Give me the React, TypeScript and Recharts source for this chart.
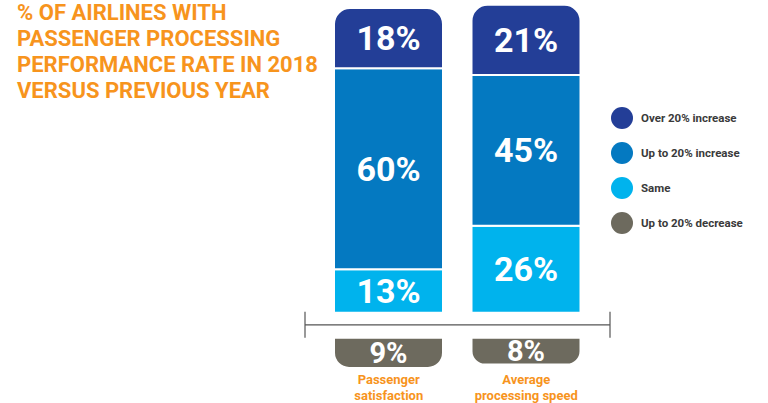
import { Bar, BarChart, LabelList, Rectangle, ReferenceLine, XAxis, YAxis } from "recharts";

// categories and values
const categories = ["Passenger satisfaction", "Average processing speed"];
const categoryLines = [["Passenger", "satisfaction"], ["Average", "processing speed"]];
const over20 = [18, 21];
const upTo20 = [60, 45];
const same = [13, 26];
const decrease = [-9, -8];

const seriesNames = ["Over 20% increase", "Up to 20% increase", "Same", "Up to 20% decrease"];
const seriesColors = ["#233e97", "#0479c1", "#00b3ed", "#6d6a5e"];

const titleLines = [
    "% OF AIRLINES WITH",
    "PASSENGER PROCESSING",
    "PERFORMANCE RATE IN 2018",
    "VERSUS PREVIOUS YEAR",
];

const data = categories.map((c, i) => ({
    category: c,
    over20: over20[i],
    upTo20: upTo20[i],
    same: same[i],
    decrease: decrease[i],
}));

const ORANGE = "#f7941d";
const FONT = "Roboto, 'DejaVu Sans', sans-serif";
// gap between the stacks and the axis line
const UP_SHIFT = -12;
const DOWN_SHIFT = 13;

function segmentShape(shift: number, radius: [number, number, number, number]) {
    return (props: any) => {
        const x = Number(props.x);
        const y = Number(props.y);
        const w = Number(props.width);
        const h = Number(props.height);
        const top = Math.min(y, y + h) + shift;
        return (
            <Rectangle
                x={x}
                y={top}
                width={w}
                height={Math.abs(h)}
                fill={props.fill}
                radius={radius}
                stroke="#ffffff"
                strokeWidth={2}
            />
        );
    };
}

function valueLabel(shift: number, size: number) {
    return (props: any) => {
        const x = Number(props.x);
        const y = Number(props.y);
        const w = Number(props.width);
        const h = Number(props.height);
        const cy = Math.min(y, y + h) + Math.abs(h) / 2 + shift;
        return (
            <text
                x={x + w / 2}
                y={cy}
                textAnchor="middle"
                dominantBaseline="central"
                fill="#ffffff"
                fontSize={size}
                fontWeight="bold"
                fontFamily={FONT}
            >
                {Math.abs(Number(props.value))}%
            </text>
        );
    };
}

function CategoryTick(props: any) {
    const { x, y, payload } = props;
    const idx = categories.indexOf(payload.value);
    const lines = categoryLines[idx] || [payload.value];
    return (
        <text x={x} y={y} textAnchor="middle" fill={ORANGE} fontSize={13} fontWeight="bold" fontFamily={FONT}>
            {lines.map((l, i) => (
                <tspan key={i} x={x} dy={i === 0 ? 6 : 16}>{l}</tspan>
            ))}
        </text>
    );
}

function AxisLine(props: any) {
    const { x1, y1, x2, y2 } = props;
    return (
        <g stroke="#555555" strokeWidth={1.2}>
            <line x1={x1} y1={y1} x2={x2} y2={y2} />
            <line x1={x1} y1={y1 - 13} x2={x1} y2={y1 + 13} />
            <line x1={x2} y1={y2 - 13} x2={x2} y2={y2 + 13} />
        </g>
    );
}

export default function App() {
    return (
        <div style={{ position: "absolute", left: 0, top: 0, width: 768, height: 403, background: "#ffffff", fontFamily: FONT }}>
            <div style={{ position: "absolute", left: 17, top: 0, color: ORANGE, fontWeight: "bold", fontSize: 22, lineHeight: "26px" }}>
                {titleLines.map((t) => (
                    <div key={t}>{t}</div>
                ))}
            </div>

            <BarChart
                width={768}
                height={403}
                data={data}
                stackOffset="sign"
                margin={{ top: 0, right: 158, bottom: 0, left: 305 }}
                barSize={109}
            >
                <XAxis
                    dataKey="category"
                    axisLine={false}
                    tickLine={false}
                    height={33}
                    padding={{ left: 15, right: 15 }}
                    tick={<CategoryTick />}
                    interval={0}
                />
                <YAxis hide domain={[-13.5, 97]} allowDataOverflow />
                <ReferenceLine y={0} shape={<AxisLine />} />
                <Bar dataKey="same" stackId="a" fill={seriesColors[2]} isAnimationActive={false} shape={segmentShape(UP_SHIFT, [0, 0, 0, 0])}>
                    <LabelList dataKey="same" content={valueLabel(UP_SHIFT, 34)} />
                </Bar>
                <Bar dataKey="upTo20" stackId="a" fill={seriesColors[1]} isAnimationActive={false} shape={segmentShape(UP_SHIFT, [0, 0, 0, 0])}>
                    <LabelList dataKey="upTo20" content={valueLabel(UP_SHIFT, 34)} />
                </Bar>
                <Bar dataKey="over20" stackId="a" fill={seriesColors[0]} isAnimationActive={false} shape={segmentShape(UP_SHIFT, [16, 16, 0, 0])}>
                    <LabelList dataKey="over20" content={valueLabel(UP_SHIFT, 34)} />
                </Bar>
                <Bar dataKey="decrease" stackId="a" fill={seriesColors[3]} isAnimationActive={false} shape={segmentShape(DOWN_SHIFT, [0, 0, 16, 16])}>
                    <LabelList dataKey="decrease" content={valueLabel(DOWN_SHIFT, 29)} />
                </Bar>
            </BarChart>

            <div style={{ position: "absolute", left: 611, top: 100 }}>
                {seriesNames.map((n, i) => (
                    <div key={n} style={{ display: "flex", alignItems: "center", height: 35 }}>
                        <span style={{ width: 22, height: 22, borderRadius: 11, background: seriesColors[i], display: "inline-block" }} />
                        <span style={{ marginLeft: 8, fontSize: 11.5, fontWeight: "bold", color: "#3a3a3a" }}>{n}</span>
                    </div>
                ))}
            </div>
        </div>
    );
}
